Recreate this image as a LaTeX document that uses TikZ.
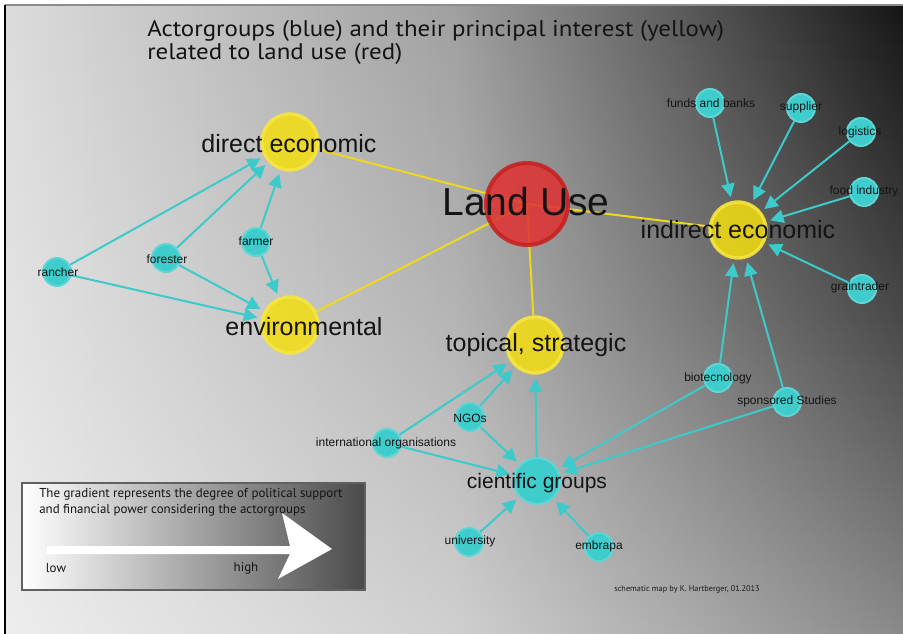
\documentclass[tikz,border=0pt]{standalone}
\usepackage{fontspec}
\setmainfont{Liberation Sans}
\newfontfamily\ptsans{PT Sans}
\newfontfamily\titlefont[FakeStretch=1.1]{PT Sans}
\usetikzlibrary{arrows.meta,fadings}
\definecolor{cyfill}{HTML}{3FCCCC}
\definecolor{cyring}{HTML}{5ED6D6}
\definecolor{cyline}{HTML}{3CCACA}
\definecolor{yel}{HTML}{F4DE10}
\definecolor{yelring}{HTML}{F6E640}
\definecolor{yline}{HTML}{EED81E}
\definecolor{redf}{HTML}{E03030}
\definecolor{redring}{HTML}{C81E1E}
\definecolor{bg0}{HTML}{DCDCDC}
\definecolor{bg1}{HTML}{A0A0A0}
\definecolor{bg2}{HTML}{5C5C5C}
\definecolor{bg3}{HTML}{161616}
\pgfdeclarehorizontalshading{bgshade}{100bp}{color(0bp)=(bg0); color(25bp)=(bg0); color(50bp)=(bg1); color(62.5bp)=(bg2); color(75bp)=(bg3); color(100bp)=(bg3)}
\tikzfading[name=upfade, top color=transparent!100, bottom color=transparent!50, middle color=transparent!78]
\pgfdeclarelayer{back}
\pgfdeclarelayer{links}
\pgfsetlayers{back,links,main}
\begin{document}
\begin{tikzpicture}[x=0.75pt,y=-0.75pt,
 actor/.style={circle, fill=cyfill, draw=cyring, line width=1.5pt, minimum size=21pt, inner sep=0pt},
 interest/.style={circle, fill=yel, fill opacity=0.85, draw=yelring, draw opacity=0.9, line width=2.5pt, minimum size=42pt, inner sep=0pt},
 landuse/.style={circle, fill=redf, fill opacity=0.85, draw=redring, draw opacity=0.85, line width=3pt, minimum size=61.5pt, inner sep=0pt},
 lbl/.style={inner sep=0pt, text depth=0pt, text=black!92},
 small/.style={lbl, text height=6.6pt, font=\fontsize{9}{10}\selectfont},
 big/.style={lbl, text height=13.6pt, font=\fontsize{18.75}{20}\selectfont},
 influence/.style={draw=cyline, line width=1.5pt, -{Triangle[length=10pt,width=10pt]}, shorten >=3pt},
 relation/.style={draw=yline, line width=1.5pt},
 legtext/.style={font=\ptsans\fontsize{9.7}{12}\selectfont, inner sep=0pt, text=black!92},
]
\useasboundingbox (0,0) rectangle (903,634);
\begin{pgfonlayer}{back}
\fill[white] (0,0) rectangle (903,634);
\shade[shading=bgshade] (5,5) rectangle (903,634);
\fill[white, path fading=upfade] (5,5) rectangle (903,634);
\draw[black!45, line width=1.2pt] (5,5) -- (903,5);
\draw[black, line width=1.2pt] (5,5) -- (5,634);
\end{pgfonlayer}

% title
\node[font=\titlefont\fontsize{17}{17.25}\selectfont, align=left, anchor=base west, inner sep=0pt, text=black!92] (title) at (147,60) {Actorgroups (blue) and their principal interest (yellow)\\related to land use (red)};

% central and interest nodes
\node[landuse] (lu) at (527,204) {};
\node[interest] (de) at (290,142) {};
\node[interest] (env) at (290,325) {};
\node[interest] (top) at (535,345) {};
\node[interest] (ie) at (738,230) {};
\node[actor, minimum size=34.5pt] (cg) at (537,481) {};

% actor nodes
\node[actor] (ra) at (57,272) {};
\node[actor] (fo) at (166,258) {};
\node[actor] (fa) at (256,242) {};
\node[actor] (fb) at (710,103) {};
\node[actor] (su) at (801,108) {};
\node[actor] (lo) at (861,132) {};
\node[actor] (fi) at (864,192) {};
\node[actor] (gt) at (862,289) {};
\node[actor] (bt) at (718,378) {};
\node[actor] (ss) at (787,402) {};
\node[actor] (em) at (599,547) {};
\node[actor] (un) at (469,542) {};
\node[actor] (ng) at (470,417) {};
\node[actor] (io) at (387,443) {};

% connectors
\begin{pgfonlayer}{links}
\draw[relation] (lu.center) -- (de);
\draw[relation] (lu.center) -- (env);
\draw[relation] (lu.center) -- (top);
\draw[relation] (lu.center) -- (ie);
\draw[influence] (ra) -- (de);
\draw[influence] (ra) -- (env);
\draw[influence] (fo) -- (de);
\draw[influence] (fo) -- (env);
\draw[influence] (fa) -- (de);
\draw[influence] (fa) -- (env);
\draw[influence] (fb) -- (ie);
\draw[influence] (su) -- (ie);
\draw[influence] (lo) -- (ie);
\draw[influence] (fi) -- (ie);
\draw[influence] (gt) -- (ie);
\draw[influence] (bt) -- (ie);
\draw[influence] (ss) -- (ie);
\draw[influence] (bt) -- (cg);
\draw[influence] (ss) -- (cg);
\draw[influence] (io) -- (top);
\draw[influence] (ng) -- (top);
\draw[influence] (cg) -- (top);
\draw[influence] (io) -- (cg);
\draw[influence] (ng) -- (cg);
\draw[influence] (un) -- (cg);
\draw[influence] (em) -- (cg);
\end{pgfonlayer}

% labels
\node[lbl, text height=21pt, font=\fontsize{29.25}{30}\selectfont] (lut) at (526,202) {Land Use};
\node[big] (det) at (289,143) {direct economic};
\node[big] (envt) at (304,326.5) {environmental};
\node[big] (topt) at (536,342) {topical, strategic};
\node[big] (iet) at (738,229) {indirect economic};
\node[lbl, text height=11.4pt, font=\fontsize{15.75}{17}\selectfont] (cgt) at (537,480.5) {cientific groups};
\node[small] (rat) at (58,272) {rancher};
\node[small] (fot) at (167,259) {forester};
\node[small] (fat) at (256,241) {farmer};
\node[small] (fbt) at (711,103) {funds and banks};
\node[small] (sut) at (801,106) {supplier};
\node[small] (lot) at (860,131) {logistics};
\node[small] (fit) at (864,190) {food industry};
\node[small] (gtt) at (860,286) {graintrader};
\node[small] (btt) at (718,377) {biotecnology};
\node[small] (sst) at (787,400) {sponsored Studies};
\node[small] (emt) at (599,545) {embrapa};
\node[small] (unt) at (470,540) {university};
\node[small] (ngt) at (470,418) {NGOs};
\node[small] (iot) at (386,442) {international organisations};

% legend
\shade[left color=white, middle color={rgb,255:red,204;green,204;blue,204}, right color={rgb,255:red,74;green,74;blue,74}] (22,483) rectangle (365,590);
\draw[black!62, line width=2.2pt] (22,483) rectangle (365,590);
\fill[white] (47,546) -- (290,546) -- (282,513) -- (332,549) -- (278,579) -- (290,554) -- (47,554) -- cycle;
\node[legtext, align=left, anchor=base west] (legt) at (39,513) {The gradient represents the degree of political support\\and financial power considering the actorgroups};
\node[legtext] (low) at (56,568) {low};
\node[legtext] (high) at (246,568) {high};
\node[font=\ptsans\fontsize{6.2}{7}\selectfont, inner sep=0pt, text=black!90] (sig) at (687,589) {schematic map by K. Hartberger, 01.2013};
\end{tikzpicture}
\end{document}
